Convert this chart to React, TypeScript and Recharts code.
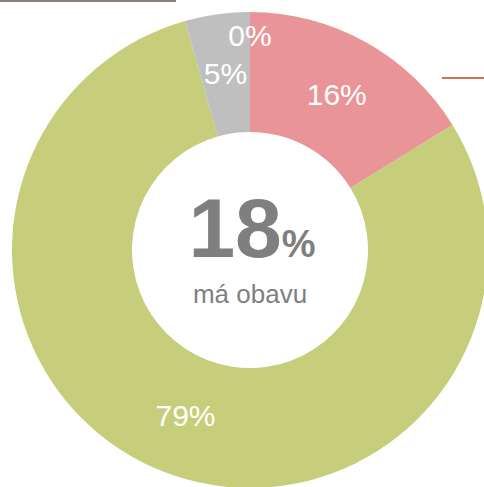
import { PieChart, Pie, Cell } from 'recharts';

const categories = ['obava velká', 'bez obav', 'neví', 'jiné'];
const shares = [16.2, 79.4, 4.4, 0];
const shareLabels = ['16%', '79%', '5%', '0%'];
const centerValue = '18';
const centerCaption = 'má obavu';

const COLORS = ['#E99598', '#C6CE7B', '#BFBFBF', '#D9774F'];
const FONT = '"Liberation Sans", Arial, sans-serif';

const data = categories.map((name, i) => ({ name, value: shares[i], label: shareLabels[i] }));

const RADIAN = Math.PI / 180;

function SliceLabel(props: any) {
  const { cx, cy, midAngle, innerRadius, outerRadius, index } = props;
  // the empty slice gets pushed out toward the rim so it doesn't sit on "5%"
  const r = data[index].value === 0 ? outerRadius - 23 : (innerRadius + outerRadius) / 2;
  const x = cx + r * Math.cos(-midAngle * RADIAN);
  const y = cy + r * Math.sin(-midAngle * RADIAN);
  return (
    <text
      x={x}
      y={y}
      fill="#ffffff"
      textAnchor="middle"
      dominantBaseline="central"
      style={{ fontFamily: FONT, fontSize: 30 }}
    >
      {data[index].label}
    </text>
  );
}

export default function App() {
  return (
    <div style={{ position: 'absolute', left: 0, top: 0, width: 484, height: 487, overflow: 'hidden', background: '#fff' }}>
      <PieChart width={484} height={487} margin={{ top: 0, right: 0, bottom: 0, left: 0 }}>
        <Pie
          data={data}
          dataKey="value"
          cx={250}
          cy={250}
          innerRadius={118}
          outerRadius={238}
          startAngle={90}
          endAngle={-270}
          stroke="none"
          label={SliceLabel}
          labelLine={false}
          isAnimationActive={false}
        >
          {data.map((d, i) => (
            <Cell key={d.name} fill={COLORS[i]} />
          ))}
        </Pie>
      </PieChart>
      <svg width={484} height={487} style={{ position: 'absolute', left: 0, top: 0, pointerEvents: 'none' }}>
        <line x1={0} y1={1} x2={176} y2={1} stroke="#8C7F78" strokeWidth={2} />
        <line x1={442} y1={78} x2={484} y2={78} stroke="#D0734F" strokeWidth={2} />
        <text x={252} y={257} textAnchor="middle" fill="#7F7F7F" style={{ fontFamily: FONT, fontWeight: 700 }}>
          <tspan fontSize={84}>{centerValue}</tspan>
          <tspan fontSize={38}>%</tspan>
        </text>
        <text x={250} y={303} textAnchor="middle" fill="#7F7F7F" style={{ fontFamily: FONT, fontSize: 26 }}>
          {centerCaption}
        </text>
      </svg>
    </div>
  );
}
